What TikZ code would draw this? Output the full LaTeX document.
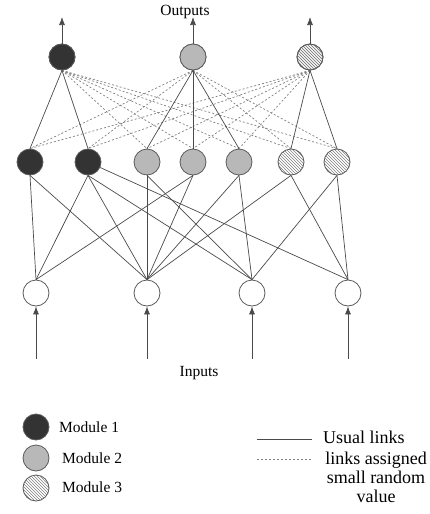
\documentclass[tikz,border=0pt]{standalone}
\usepackage{fontspec}
\setmainfont{Liberation Serif}
\usetikzlibrary{patterns,arrows.meta}
\definecolor{darkmod}{HTML}{333333}
\definecolor{graymod}{HTML}{B8B8B8}
\definecolor{edgecol}{HTML}{4A4A4A}
\definecolor{rimcol}{HTML}{5A5A5A}
\tikzset{
  neuron/.style={circle,draw=rimcol,line width=0.8pt,minimum size=26pt,inner sep=0pt},
  mone/.style={neuron,fill=darkmod},
  mtwo/.style={neuron,fill=graymod},
  mthree/.style={neuron,pattern=north west lines,pattern color=gray},
  minput/.style={neuron,fill=white},
  usual/.style={draw=edgecol,line width=0.7pt},
  rand/.style={draw=gray,line width=0.7pt,dash pattern=on 2pt off 2pt},
  arr/.style={usual,-{Latex[length=8pt,width=6pt]}},
  lbl/.style={font=\fontsize{15.5}{18}\selectfont,inner sep=0pt},
  rlbl/.style={font=\fontsize{18}{19}\selectfont,inner sep=0pt}
}
\begin{document}
\begin{tikzpicture}[x=1pt,y=-1pt]
\useasboundingbox (0,0) rectangle (430,514);
% output layer
\node[mone]   (O1) at (62,57) {};
\node[mtwo]   (O2) at (193,57) {};
\node[mthree] (O3) at (310,57) {};
% hidden layer
\node[mone]   (H1) at (30,162) {};
\node[mone]   (H2) at (88,162) {};
\node[mtwo]   (H3) at (147,162) {};
\node[mtwo]   (H4) at (193,162) {};
\node[mtwo]   (H5) at (239,162) {};
\node[mthree] (H6) at (291,162) {};
\node[mthree] (H7) at (337,162) {};
% input layer
\node[minput] (I1) at (36,293) {};
\node[minput] (I2) at (147,293) {};
\node[minput] (I3) at (252,293) {};
\node[minput] (I4) at (348,293) {};
% labels
\node[lbl] (outl) at (185,12) {Outputs};
\node[lbl] (inl) at (199,373) {Inputs};
% output arrows
\coordinate (T1) at (62,17);
\coordinate (T2) at (193,17);
\coordinate (T3) at (310,17);
\draw[arr] (O1.north) -- (T1);
\draw[arr] (O2.north) -- (T2);
\draw[arr] (O3.north) -- (T3);
% input arrows
\coordinate (B1) at (36,359);
\coordinate (B2) at (147,359);
\coordinate (B3) at (252,359);
\coordinate (B4) at (348,359);
\draw[arr] (B1) -- (I1.south);
\draw[arr] (B2) -- (I2.south);
\draw[arr] (B3) -- (I3.south);
\draw[arr] (B4) -- (I4.south);
% random (dashed) links
\foreach \h in {H3,H4,H5,H6,H7} \draw[rand] (O1.south) -- (\h.north);
\foreach \h in {H1,H2,H6,H7} \draw[rand] (O2.south) -- (\h.north);
\foreach \h in {H1,H2,H3,H4,H5} \draw[rand] (O3.south) -- (\h.north);
% usual links output-hidden
\foreach \h in {H1,H2} \draw[usual] (O1.south) -- (\h.north);
\foreach \h in {H3,H4,H5} \draw[usual] (O2.south) -- (\h.north);
\foreach \h in {H6,H7} \draw[usual] (O3.south) -- (\h.north);
% usual links hidden-input
\draw[usual] (H1.south) -- (I1.north);
\draw[usual] (H1.south) -- (I2.north);
\draw[usual] (H2.south) -- (I1.north);
\draw[usual] (H2.south) -- (I2.north);
\draw[usual] (H2.south) -- (I3.north);
\draw[usual] (H2) -- (I4.north);
\draw[usual] (H3.south) -- (I2.north);
\draw[usual] (H3.south) -- (I3.north);
\draw[usual] (H4.south) -- (I1.north);
\draw[usual] (H4.south) -- (I2.north);
\draw[usual] (H5.south) -- (I2.north);
\draw[usual] (H5.south) -- (I3.north);
\draw[usual] (H6.south) -- (I2.north);
\draw[usual] (H6.south) -- (I4.north);
\draw[usual] (H7.south) -- (I3.north);
\draw[usual] (H7.south) -- (I4.north);
% redraw nodes above lines
\node[mone]   at (O1) {};
\node[mtwo]   at (O2) {};
\node[mthree] at (O3) {};
% legend left
\node[mone]   (L1) at (36,427) {};
\node[mtwo]   (L2) at (36,458) {};
\node[mthree] (L3) at (36,488) {};
\node[lbl,anchor=west] (L1t) at (59,427) {Module 1};
\node[lbl,anchor=west] (L2t) at (62,458) {Module 2};
\node[lbl,anchor=west] (L3t) at (62,487) {Module 3};
% legend right
\coordinate (S1) at (257,439);
\coordinate (S2) at (312,439);
\coordinate (D1) at (257,459);
\coordinate (D2) at (312,459);
\draw[usual] (S1) -- (S2);
\draw[rand] (D1) -- (D2);
\node[rlbl,anchor=west] (U) at (323,437) {Usual links};
\node[rlbl,anchor=north,align=center] (R) at (376,452) {links assigned\\small random\\value};
\end{tikzpicture}
\end{document}
